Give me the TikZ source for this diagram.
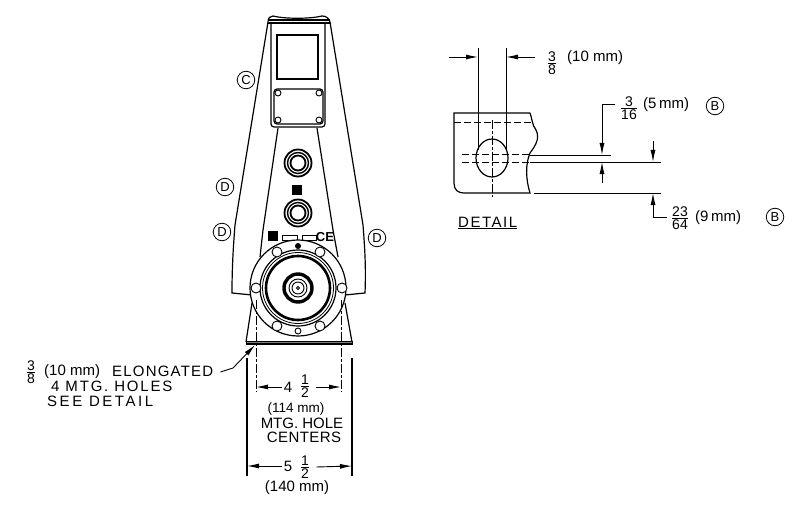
\documentclass[tikz,border=0pt]{standalone}
\usepackage{amsmath}
\usepackage{fontspec}
\setmainfont{Liberation Sans}
\usetikzlibrary{calc,arrows.meta}

\newcommand{\stackfrac}[2]{\ensuremath{\genfrac{}{}{0.9pt}{}{\mbox{#1}}{\mbox{#2}}}}
\tikzset{
	dimtext/.style={inner sep=0pt,font=\fontsize{15}{15}\selectfont},
	bigtext/.style={inner sep=0pt,font=\fontsize{15}{15}\selectfont},
	widetext/.style={inner sep=0pt,font=\fontsize{15}{15}\selectfont\addfontfeature{LetterSpace=#1}},
	fractext/.style={inner sep=0pt,font=\fontsize{14}{14}\selectfont},
	callout/.style={draw,circle,line width=0.8pt,minimum size=17.5pt,inner sep=0pt,font=\fontsize{13}{13}\selectfont},
	outline/.style={line width=1.2pt},
	hidden/.style={line width=1pt,dash pattern=on 7pt off 3pt},
	centerline/.style={line width=0.8pt,dash pattern=on 9pt off 2pt on 3pt off 2pt},
	thinline/.style={line width=0.9pt},
	dimarrow/.style={line width=0.9pt,-{Latex[length=12pt,width=5pt]}}
}

\begin{document}
\begin{tikzpicture}[x=1pt,y=-1pt]
	\useasboundingbox (0,0) rectangle (803,508);
	% front view, outer housing
	\draw[outline] (252,295) -- (232,293) .. controls (232,270) and (233,250) .. (235,225) -- (268,22)
		.. controls (268,18) and (270,16) .. (273,16) .. controls (285,19) and (310,19) .. (322,16)
		.. controls (326,16) and (329,18) .. (330,22) -- (363,225) .. controls (365,250) and (366,270) .. (365,293) -- (345,295);
	\draw[outline] (268,20) -- (330,20);
	\draw[outline] (268,23) -- (330,23);
	% panel, window and plate
	\draw[outline,rounded corners=3pt] (271,22) -- (271,127) -- (325,127) -- (325,22);
	\draw[outline] (277,35) rectangle (318,79);
	\draw[outline,rounded corners=3pt] (274,89) rectangle (323,124);
	\foreach \px/\py in {278/93,319/93,278/120,319/120}
		\draw[thinline,fill=white] (\px,\py) circle (3);
	\draw[outline] (278,128) -- (263,230) -- (260,257);
	\draw[outline] (317,128) -- (333,230) -- (338,257);
	% glands
	\foreach \gy in {163,213} {
		\draw[line width=1.8pt] (298,\gy) circle (13.5);
		\draw[line width=1.4pt] (298,\gy) circle (10.5);
		\draw[line width=1.8pt] (298,\gy) circle (7.5);
	}
	\fill (292,185) rectangle (302,195);
	% label plates
	\fill (268,231) rectangle (278,241);
	\draw[thinline] (282,235) rectangle (297,240);
	\draw[thinline] (302,235) rectangle (316,240);
	\node[inner sep=0pt,font=\bfseries\fontsize{13}{13}\selectfont] (ce) at (325,237) {CE};
	% base
	\draw[outline] (252,303) -- (246,342);
	\draw[outline] (345,303) -- (352,342);
	\draw[thinline,fill=gray] (246,341) rectangle (352,344);
	\draw[outline] (246,344) -- (352,344);
	% flange
	\draw[outline,fill=white] (298,288) circle (48);
	\draw[outline] (298,288) circle (38);
	\draw[line width=0.8pt] (298,288) circle (35.5);
	\draw[line width=2.6pt] (298,288) circle (32);
	\draw[line width=3.4pt] (298,288) circle (14);
	\draw[thinline] (298,288) circle (9);
	\draw[thinline] (298,288) circle (6);
	\draw[thinline] (298,288) circle (1.5);
	\foreach \hx/\hy in {256/288,342/288,277/252,320/252,277/326,320/326}
		\draw[thinline,fill=white] (\hx,\hy) circle (5);
	\fill (298,246) circle (3);
	\draw[thinline] (298,331) circle (3);
	% hole centers and widths
	\draw[centerline] (256,300) -- (256,392);
	\draw[centerline] (341,300) -- (341,392);
	\draw[outline] (247,358) -- (247,476);
	\draw[outline] (352,358) -- (352,476);
	\node[widetext=0] (four) at (288,387) {4};
	\node[fractext] (fourfrac) at (305,386) {\stackfrac{1}{2}};
	\draw[dimarrow] (four.west) ++(-2,0) -- (256,387);
	\draw[dimarrow] (fourfrac.east) ++(6,1) -- (341,387);
	\node[widetext=0] (five) at (288,466) {5};
	\node[fractext] (fivefrac) at (305,467) {\stackfrac{1}{2}};
	\draw[dimarrow] (five.west) ++(-2,0) -- (247,466);
	\draw[dimarrow] (fivefrac.east) ++(6,0) -- (352,466);
	\node[dimtext,font=\fontsize{13.5}{13.5}\selectfont] (holemm) at (296,409) {(114 mm)};
	\node[bigtext] (holeone) at (302,423) {MTG. HOLE};
	\node[widetext=3] (holetwo) at (304,437) {CENTERS};
	\node[dimtext] (widthmm) at (297,488) {(140 mm)};
	% leader for mounting holes
	\node[fractext] (leadfrac) at (31,372) {\stackfrac{3}{8}};
	\node[dimtext,anchor=west] (leadmm) at (44,372) {(10 mm)};
	\node[widetext=8,anchor=west] (leadone) at (112,371) {ELONGATED};
	\node[widetext=12,anchor=west] (leadtwo) at (51,386) {4 MTG. HOLES};
	\node[widetext=17,anchor=west] (leadthree) at (47,401) {SEE DETAIL};
	\coordinate (leadtip) at (255,345);
	\draw[dimarrow] (leadone.east) ++(7,1) -- (233,368) -- (leadtip);
	% callouts
	\node[callout] (calloutc) at (246,80) {C};
	\node[callout] (calloutd) at (225,187) {D};
	\node[callout] (calloute) at (222,232) {D};
	\node[callout] (calloutf) at (377,238) {D};
	% detail view
	\draw[outline] (530,113) -- (454,113) -- (454,183) .. controls (454,190) and (458,193) .. (464,193) -- (530,193)
		.. controls (526,180) and (525,165) .. (530,153) .. controls (536,145) and (540,138) .. (536,130) .. controls (532,125) and (532,118) .. (530,113);
	\draw[hidden] (454,123) -- (532,123);
	\draw[outline] (492,158) ellipse (16 and 19);
	\draw[hidden] (462,155) -- (530,155);
	\draw[hidden] (462,162) -- (530,162);
	\draw[centerline] (492,120) -- (492,197);
	\draw[thinline] (478,48) -- (478,150);
	\draw[thinline] (506,48) -- (506,150);
	\draw[thinline] (530,155) -- (611,155);
	\draw[thinline] (530,162) -- (661,162);
	\draw[thinline] (534,193) -- (661,193);
	\draw[dimarrow] (449,57) -- (478,57);
	\draw[dimarrow] (535,57) -- (506,57);
	\draw[dimarrow] (615,104) -- (602,104) -- (602,155);
	\draw[dimarrow] (602,183) -- (602,162);
	\draw[dimarrow] (653,141) -- (653,162);
	\draw[dimarrow] (667,217) -- (653,217) -- (653,193);
	\node[fractext] (topfrac) at (552,63) {\stackfrac{3}{8}};
	\node[dimtext,anchor=west] (topmm) at (567,58) {(10 mm)};
	\node[fractext] (midfrac) at (629,108) {\stackfrac{3}{16}};
	\node[dimtext,anchor=west] (midmm) at (643,105) {(5\,mm)};
	\node[fractext] (lowfrac) at (680,218) {\stackfrac{23}{64}};
	\node[dimtext,anchor=west] (lowmm) at (695,218) {(9\,mm)};
	\node[callout] (calloutb) at (715,106) {B};
	\node[callout] (calloutg) at (775,217) {B};
	\node[widetext=10,anchor=west] (detail) at (458,222) {DETAIL};
	\draw[thinline] (detail.west |- 0,228) -- (detail.east |- 0,228);
\end{tikzpicture}
\end{document}
